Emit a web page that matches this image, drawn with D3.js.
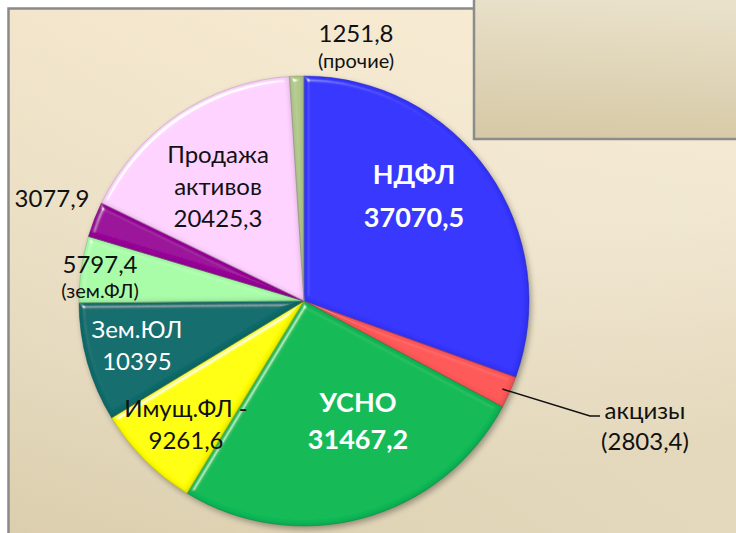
<!DOCTYPE html>
<html>
<head>
<meta charset="utf-8">
<script src="https://cdn.jsdelivr.net/npm/d3@7"></script>
<style>
  body { margin: 0; background: #ffffff; }
  svg { display: block; font-family: Lato, "Noto Sans", sans-serif; }
</style>
</head>
<body>
<svg id="chart" width="736" height="533"></svg>
<script>
// ---------------------------- DATA ----------------------------
const categories = ["НДФЛ", "акцизы", "УСНО", "Имущ.ФЛ", "Зем.ЮЛ", "зем.ФЛ", "прочие2", "Продажа активов", "прочие"];
const values = [37070.5, 2803.4, 31467.2, 9261.6, 10395, 5797.4, 3077.9, 20425.3, 1251.8];
const sliceColours = ["#3434ff", "#ff5858", "#0aba56", "#ffff00", "#0a6c6c", "#a8fca8", "#990099", "#ffd2ff", "#b2c98c"];
// label lines for each slice (shown as text)
const labelLines = [
    ["НДФЛ", "37070,5"],
    ["акцизы", "(2803,4)"],
    ["УСНО", "31467,2"],
    ["Имущ.ФЛ -", "9261,6"],
    ["Зем.ЮЛ", "10395"],
    ["5797,4", "(зем.ФЛ)"],
    ["3077,9"],
    ["Продажа", "активов", "20425,3"],
    ["1251,8", "(прочие)"]
];

const width = 736;
const height = 533;
const cx = 304, cy = 301, radius = 225;

const svg = d3.select("#chart");
const defs = svg.append("defs");

// Panel background gradient
const bg = defs.append("linearGradient").attr("id", "bgGrad")
    .attr("x1", "0").attr("y1", "0").attr("x2", "0.3").attr("y2", "1");
bg.append("stop").attr("offset", "0").attr("stop-color", "#fbecd2");
bg.append("stop").attr("offset", "0.6").attr("stop-color", "#f3e9d3");
bg.append("stop").attr("offset", "1").attr("stop-color", "#e4d8bb");

const bg2 = defs.append("linearGradient").attr("id", "bgGrad2")
    .attr("x1", "1").attr("y1", "0").attr("x2", "0").attr("y2", "1");
bg2.append("stop").attr("offset", "0").attr("stop-color", "#f1ead8").attr("stop-opacity", 0);
bg2.append("stop").attr("offset", "1").attr("stop-color", "#d6c8a5").attr("stop-opacity", 0.7);

// Legend box gradient
const boxGrad = defs.append("linearGradient").attr("id", "boxGrad")
    .attr("x1", "0.4").attr("y1", "0").attr("x2", "0.3").attr("y2", "1");
boxGrad.append("stop").attr("offset", "0").attr("stop-color", "#e9e1ca");
boxGrad.append("stop").attr("offset", "1").attr("stop-color", "#d6c9a6");

// Bevel filter for slices: highlight on edges only
const bevel = defs.append("filter").attr("id", "bevel")
    .attr("x", "-10%").attr("y", "-10%").attr("width", "120%").attr("height", "120%");
bevel.append("feGaussianBlur").attr("in", "SourceAlpha").attr("stdDeviation", 2.5).attr("result", "blur");
const spec = bevel.append("feSpecularLighting").attr("in", "blur")
    .attr("surfaceScale", 5).attr("specularConstant", 0.9).attr("specularExponent", 30)
    .attr("lighting-color", "#ffffff").attr("result", "spec");
spec.append("feDistantLight").attr("azimuth", 235).attr("elevation", 28);
bevel.append("feComposite").attr("in", "spec").attr("in2", "SourceAlpha").attr("operator", "in").attr("result", "specOut");
// darker rim on the shadow side
bevel.append("feOffset").attr("in", "blur").attr("dx", -1.5).attr("dy", -1.5).attr("result", "offBlur");
bevel.append("feComposite").attr("in", "SourceAlpha").attr("in2", "offBlur").attr("operator", "out").attr("result", "rim");
bevel.append("feColorMatrix").attr("in", "rim").attr("type", "matrix")
    .attr("values", "0 0 0 0 0  0 0 0 0 0  0 0 0 0 0  0 0 0 0.35 0").attr("result", "rimDark");
bevel.append("feComposite").attr("in", "SourceGraphic").attr("in2", "specOut")
    .attr("operator", "arithmetic").attr("k1", 0).attr("k2", 1).attr("k3", 0.8).attr("k4", 0).attr("result", "lit");
const merge = bevel.append("feMerge");
merge.append("feMergeNode").attr("in", "lit");
merge.append("feMergeNode").attr("in", "rimDark");

// Shadow filter under the pie
const shadow = defs.append("filter").attr("id", "shadow")
    .attr("x", "-20%").attr("y", "-20%").attr("width", "140%").attr("height", "140%");
shadow.append("feGaussianBlur").attr("in", "SourceAlpha").attr("stdDeviation", 3);
shadow.append("feOffset").attr("dx", 2).attr("dy", 3).attr("result", "off");
shadow.append("feComponentTransfer").append("feFuncA").attr("type", "linear").attr("slope", 0.35);

// ---------------------------- BACKGROUND ----------------------------
svg.append("rect").attr("x", 8).attr("y", 8).attr("width", width).attr("height", height)
    .attr("fill", "url(#bgGrad)");
svg.append("rect").attr("x", 8).attr("y", 8).attr("width", width).attr("height", height)
    .attr("fill", "url(#bgGrad2)");
svg.append("path").attr("d", `M8.5,${height} V8.5 H${width}`)
    .attr("fill", "none").attr("stroke", "#8a8a8a").attr("stroke-width", 2.5);

// Legend box (empty) at top right
svg.append("rect").attr("x", 474).attr("y", -2).attr("width", 270).attr("height", 141)
    .attr("fill", "url(#boxGrad)").attr("stroke", "#8c8c8c").attr("stroke-width", 2.5);

// ---------------------------- PIE ----------------------------
const pie = d3.pie().sort(null).value(d => d);
const arcs = pie(values);
const arc = d3.arc().innerRadius(0).outerRadius(radius);

const g = svg.append("g").attr("transform", `translate(${cx},${cy})`);

g.append("circle").attr("r", radius).attr("fill", "#000").attr("filter", "url(#shadow)");

g.selectAll("path.slice")
    .data(arcs)
    .enter()
    .append("path")
    .attr("class", "slice")
    .attr("d", arc)
    .attr("fill", (d, i) => sliceColours[i])
    .attr("filter", "url(#bevel)");

g.selectAll("path.edge")
    .data(arcs)
    .enter()
    .append("path")
    .attr("class", "edge")
    .attr("d", arc)
    .attr("fill", "none")
    .attr("stroke", (d, i) => d3.color(sliceColours[i]).darker(0.8))
    .attr("stroke-width", 1)
    .attr("stroke-opacity", 0.5);

// ---------------------------- LABELS ----------------------------
// label anchor positions and styles per slice
const labelPos = [
    { x: 414, y: 184, size: 27, weight: "bold", fill: "#ffffff", gap: 43 },
    { x: 645, y: 419, size: 24, weight: "normal", fill: "#111111", gap: 31 },
    { x: 358, y: 412, size: 27, weight: "bold", fill: "#ffffff", gap: 37 },
    { x: 186, y: 417, size: 24, weight: "normal", fill: "#111111", gap: 32 },
    { x: 137, y: 338, size: 24, weight: "normal", fill: "#ffffff", gap: 32 },
    { x: 100, y: 273, size: 24, weight: "normal", fill: "#111111", gap: 25, sub: 20 },
    { x: 52, y: 207, size: 24, weight: "normal", fill: "#111111", gap: 0 },
    { x: 218, y: 163, size: 24, weight: "normal", fill: "#111111", gap: 32 },
    { x: 356, y: 42, size: 24, weight: "normal", fill: "#111111", gap: 26, sub: 20 }
];

labelLines.forEach((lines, i) => {
    const p = labelPos[i];
    const t = svg.append("text")
        .attr("text-anchor", "middle")
        .attr("fill", p.fill)
        .attr("font-weight", p.weight)
        .attr("font-size", p.size);
    lines.forEach((line, j) => {
        t.append("tspan")
            .attr("x", p.x)
            .attr("y", p.y + j * p.gap)
            .attr("font-size", (p.sub && j > 0) ? p.sub : p.size)
            .text(line);
    });
});

// Leader line for акцизы
const akc = arcs[1];
const mid = (akc.startAngle + akc.endAngle) / 2;
const sx = cx + Math.sin(mid) * (radius - 8);
const sy = cy - Math.cos(mid) * (radius - 8);
svg.append("path")
    .attr("d", `M${sx},${sy} L590,416 H600`)
    .attr("fill", "none")
    .attr("stroke", "#111111")
    .attr("stroke-width", 1.5);
</script>
</body>
</html>
